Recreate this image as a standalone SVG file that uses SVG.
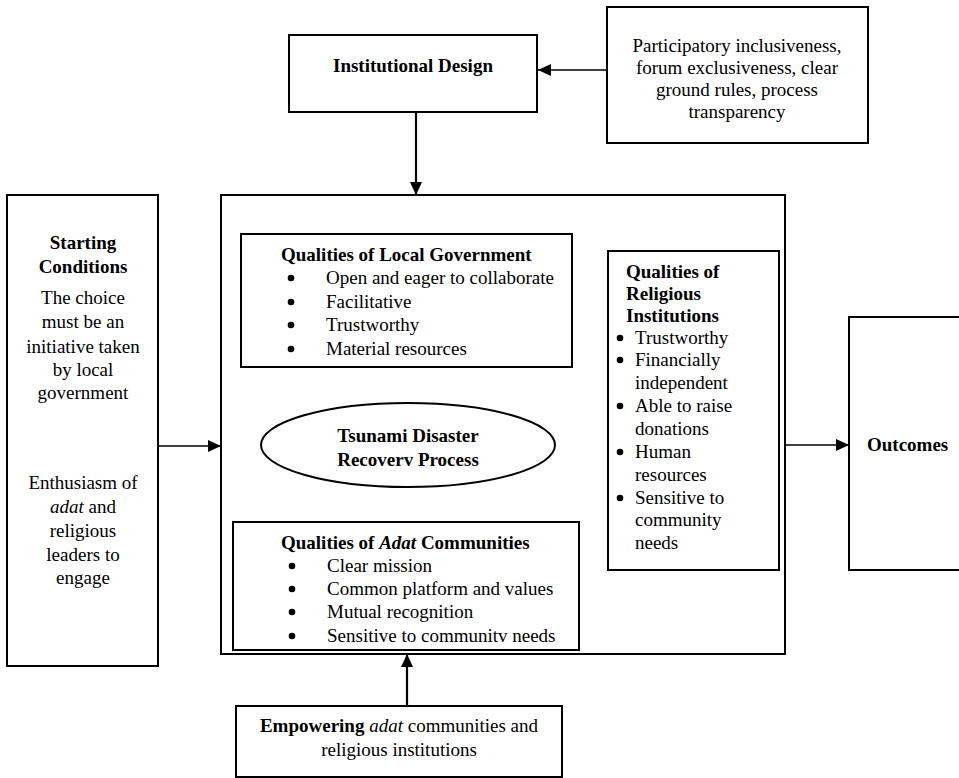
<svg xmlns="http://www.w3.org/2000/svg" width="959" height="778" viewBox="0 0 959 778">
<defs>
<style>
.box{fill:#fff;stroke:#000;stroke-width:2}
.t{font-family:"Liberation Serif","Times New Roman",serif;font-size:19px;fill:#000}
.b{font-weight:bold}
.c{text-anchor:middle}
.dot{fill:#000}
.ln{stroke:#000;stroke-width:1.3;fill:none}
.lnk{stroke:#000;stroke-width:2.2;fill:none}
</style>
<marker id="ah" markerUnits="userSpaceOnUse" markerWidth="14" markerHeight="12" refX="13" refY="6" orient="auto">
<path d="M0,0 L13,6 L0,12 Z" fill="#000"/>
</marker>
</defs>
<rect width="959" height="778" fill="#fff"/>

<g id="connectors">
<line class="ln" x1="607" y1="70" x2="538" y2="70" marker-end="url(#ah)"/>
<line class="lnk" x1="416" y1="112" x2="416" y2="195" marker-end="url(#ah)"/>
<line class="ln" x1="158" y1="446" x2="221" y2="446" marker-end="url(#ah)"/>
<line class="ln" x1="407" y1="367" x2="407" y2="403" marker-end="url(#ah)"/>
<line class="ln" x1="407" y1="522" x2="407" y2="487" marker-end="url(#ah)"/>
<line class="ln" x1="608" y1="447" x2="555" y2="448" marker-end="url(#ah)"/>
<line class="ln" x1="785" y1="445" x2="849" y2="445" marker-end="url(#ah)"/>
<line class="lnk" x1="407" y1="706" x2="407" y2="654" marker-end="url(#ah)"/>
</g>

<g id="institutional-design">
<rect class="box" x="289" y="35" width="248" height="77"/>
<text class="t b c" x="413" y="72">Institutional Design</text>
</g>

<g id="design-attributes">
<rect class="box" x="607" y="7" width="261" height="136"/>
<text class="t c" x="737" y="52">Participatory inclusiveness,</text>
<text class="t c" x="737" y="74">forum exclusiveness, clear</text>
<text class="t c" x="737" y="96">ground rules, process</text>
<text class="t c" x="737" y="118">transparency</text>
</g>

<g id="starting-conditions">
<rect class="box" x="7" y="195" width="151" height="471"/>
<text class="t b c" x="83" y="249">Starting</text>
<text class="t b c" x="83" y="273">Conditions</text>
<text class="t c" x="83" y="304">The choice</text>
<text class="t c" x="83" y="328">must be an</text>
<text class="t c" x="83" y="353">initiative taken</text>
<text class="t c" x="83" y="376">by local</text>
<text class="t c" x="83" y="399">government</text>
<text class="t c" x="83" y="489">Enthusiasm of</text>
<text class="t c" x="83" y="513"><tspan font-style="italic">adat</tspan> and</text>
<text class="t c" x="83" y="537">religious</text>
<text class="t c" x="83" y="561">leaders to</text>
<text class="t c" x="83" y="584">engage</text>
</g>

<g id="collaborative-process">
<rect class="box" x="221" y="195" width="564" height="459"/>
</g>

<g id="local-government">
<rect class="box" x="241" y="234" width="331" height="133"/>
<text class="t b" x="281" y="261">Qualities of Local Government</text>
<circle class="dot" cx="291" cy="278" r="3.3"/><text class="t" x="326" y="284">Open and eager to collaborate</text>
<circle class="dot" cx="291" cy="302" r="3.3"/><text class="t" x="326" y="308">Facilitative</text>
<circle class="dot" cx="291" cy="325" r="3.3"/><text class="t" x="326" y="331">Trustworthy</text>
<circle class="dot" cx="291" cy="349" r="3.3"/><text class="t" x="326" y="355">Material resources</text>
</g>

<g id="recovery-process">
<ellipse cx="408" cy="445" rx="147" ry="42" fill="#fff" stroke="#000" stroke-width="2"/>
<text class="t b c" x="408" y="442">Tsunami Disaster</text>
<text class="t b c" x="408" y="466">Recoverv Process</text>
</g>

<g id="adat-communities">
<rect class="box" x="233" y="522" width="346" height="128"/>
<text class="t b" x="281" y="549">Qualities of <tspan font-style="italic">Adat</tspan> Communities</text>
<circle class="dot" cx="292" cy="566" r="3.3"/><text class="t" x="327" y="572">Clear mission</text>
<circle class="dot" cx="292" cy="589" r="3.3"/><text class="t" x="327" y="595">Common platform and values</text>
<circle class="dot" cx="292" cy="612" r="3.3"/><text class="t" x="327" y="618">Mutual recognition</text>
<circle class="dot" cx="292" cy="636" r="3.3"/><text class="t" x="327" y="642">Sensitive to communitv needs</text>
</g>

<g id="religious-institutions">
<rect class="box" x="608" y="251" width="171" height="319"/>
<text class="t b" x="626" y="278">Qualities of</text>
<text class="t b" x="626" y="300">Religious</text>
<text class="t b" x="626" y="322">Institutions</text>
<circle class="dot" cx="620" cy="338" r="3.3"/><text class="t" x="635" y="344">Trustworthy</text>
<circle class="dot" cx="620" cy="360" r="3.3"/><text class="t" x="635" y="366">Financially</text>
<text class="t" x="635" y="389">independent</text>
<circle class="dot" cx="620" cy="406" r="3.3"/><text class="t" x="635" y="412">Able to raise</text>
<text class="t" x="635" y="435">donations</text>
<circle class="dot" cx="620" cy="452" r="3.3"/><text class="t" x="635" y="458">Human</text>
<text class="t" x="635" y="481">resources</text>
<circle class="dot" cx="620" cy="498" r="3.3"/><text class="t" x="635" y="504">Sensitive to</text>
<text class="t" x="635" y="526">community</text>
<text class="t" x="635" y="549">needs</text>
</g>

<g id="outcomes">
<rect class="box" x="849" y="317" width="115" height="253"/>
<text class="t b" x="867" y="451">Outcomes</text>
</g>

<g id="empowering">
<rect class="box" x="236" y="706" width="326" height="71"/>
<text class="t c" x="399" y="732"><tspan font-weight="bold">Empowering</tspan> <tspan font-style="italic">adat</tspan> communities and</text>
<text class="t c" x="399" y="756">religious institutions</text>
</g>
</svg>
